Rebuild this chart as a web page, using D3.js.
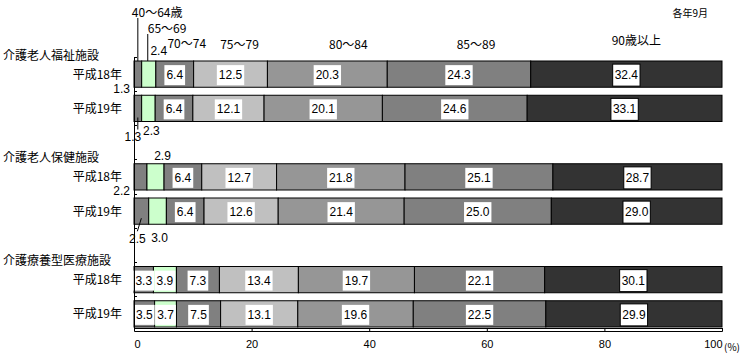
<!DOCTYPE html>
<html><head><meta charset="utf-8">
<script src="https://cdn.jsdelivr.net/npm/d3@7"></script>
<style>
body{margin:0;background:#fff;}
svg{display:block;}
text{font-family:"Noto Sans CJK JP","Noto Sans",sans-serif;fill:#000;}
text.num{font-family:"Liberation Sans","DejaVu Sans",sans-serif;}
</style>
</head><body><svg id="chart" width="740" height="356"></svg>
<script>
// ---- data ----
const facilities = ["介護老人福祉施設", "介護老人保健施設", "介護療養型医療施設"];
const years = ["平成18年", "平成19年"];
const ageGroups = ["40〜64歳", "65〜69", "70〜74", "75〜79", "80〜84", "85〜89", "90歳以上"];
const fukushiH18 = [1.3, 2.4, 6.4, 12.5, 20.3, 24.3, 32.4];
const fukushiH19 = [1.3, 2.3, 6.4, 12.1, 20.1, 24.6, 33.1];
const hokenH18 = [2.2, 2.9, 6.4, 12.7, 21.8, 25.1, 28.7];
const hokenH19 = [2.5, 3.0, 6.4, 12.6, 21.4, 25.0, 29.0];
const ryoyoH18 = [3.3, 3.9, 7.3, 13.4, 19.7, 22.1, 30.1];
const ryoyoH19 = [3.5, 3.7, 7.5, 13.1, 19.6, 22.5, 29.9];
const xTickValues = [0, 20, 40, 60, 80, 100];
const unitLabel = "(%)";
const noteLabel = "各年9月";

// ---- styles ----
const colors = ["#808080", "#ccffcc", "#808080", "#c0c0c0", "#969696", "#808080", "#333333"];

const valuesByFacility = [[fukushiH18, fukushiH19], [hokenH18, hokenH19], [ryoyoH18, ryoyoH19]];
const rows = [];
const bandKeys = [];
facilities.forEach((f, fi) => {
  if (fi > 0) bandKeys.push("gap" + fi);
  years.forEach((y, yi) => {
    const key = f + "|" + y;
    bandKeys.push(key);
    rows.push({key, facility: f, fi, year: y, yi, values: valuesByFacility[fi][yi]});
  });
});

const svg = d3.select("#chart");
const x = d3.scaleLinear().domain([0, 1]).range([134, 722]);
const y = d3.scaleBand().domain(bandKeys).range([57, 331]).padding(0);
const barPad = 4;
const barTop = k => y(k) + barPad;
const barH = y.bandwidth() - 2 * barPad;
const barMid = k => y(k) + y.bandwidth() / 2;

const stack = d3.stack()
  .keys(d3.range(ageGroups.length))
  .value((d, k) => d.values[k])
  .offset(d3.stackOffsetExpand);
const series = stack(rows);

// bars
const gBars = svg.append("g");
series.forEach((s, si) => {
  gBars.selectAll(null).data(s).join("rect")
    .attr("x", d => x(d[0]))
    .attr("y", d => barTop(d.data.key))
    .attr("width", d => x(d[1]) - x(d[0]))
    .attr("height", barH)
    .attr("fill", colors[si])
    .attr("stroke", "#000")
    .attr("stroke-width", 1);
});

// outside labels (annotation layout): row index, series index
const outside = [
  {r: 0, s: 0, mode: "leftBelow", dy: 2},
  {r: 0, s: 1, mode: "above", dx: 10, dy: -10},
  {r: 1, s: 0, mode: "below", dx: -5, dy: 15, leader: [0, -4, 0, 8]},
  {r: 1, s: 1, mode: "below", dx: 3, dy: 9},
  {r: 2, s: 0, mode: "leftBelow", dy: 1},
  {r: 2, s: 1, mode: "above", dx: 7, dy: -8},
  {r: 3, s: 0, mode: "below", dx: -4, dy: 15, leader: [0, -6, -4, 7]},
  {r: 3, s: 1, mode: "below", dx: 2, dy: 14}
];
const isOutside = (r, s) => outside.some(o => o.r === r && o.s === s);

const gLab = svg.append("g").style("font-size", "12px");
const segMid = (r, s) => x((series[s][r][0] + series[s][r][1]) / 2);

// inline labels with white boxes
rows.forEach((row, ri) => {
  ageGroups.forEach((a, si) => {
    if (isOutside(ri, si)) return;
    const cx = segMid(ri, si);
    const cy = barMid(row.key) + 1;
    const g = gLab.append("g");
    const t = g.append("text").attr("class", "num")
      .attr("x", cx).attr("y", cy)
      .attr("text-anchor", "middle").attr("dominant-baseline", "central")
      .text(row.values[si].toFixed(1));
    const w = t.node().getComputedTextLength() + 4;
    const h = si === 6 ? 22 : 20;
    g.insert("rect", "text")
      .attr("x", cx - w / 2).attr("y", cy - h / 2)
      .attr("width", w).attr("height", h)
      .attr("fill", "#fff")
      .attr("stroke", si === 6 ? "#000" : "none");
  });
});

// outside labels
outside.forEach(o => {
  const row = rows[o.r];
  const txt = row.values[o.s].toFixed(1);
  const cx = segMid(o.r, o.s);
  const top = barTop(row.key), bot = top + barH;
  let tx, ty, anchor = "middle";
  if (o.mode === "leftBelow") { tx = x(0) - 4; ty = bot + o.dy; anchor = "end"; }
  else if (o.mode === "above") { tx = cx + o.dx; ty = top + o.dy; }
  else { tx = cx + o.dx; ty = bot + o.dy; }
  gLab.append("text").attr("class", "num").attr("x", tx).attr("y", ty)
    .attr("text-anchor", anchor).attr("dominant-baseline", "central").text(txt);
  if (o.leader) {
    gLab.append("line")
      .attr("x1", cx + o.leader[0]).attr("y1", bot + o.leader[1])
      .attr("x2", cx + o.leader[2]).attr("y2", bot + o.leader[3])
      .attr("stroke", "#000").attr("stroke-width", 1);
  }
});

// series name labels above first bar
const nameDx = [-6, -1, 12, 9, 21, 17, 10];
const nameY = [11, 27, 42, 43, 43, 43, 39];
ageGroups.forEach((a, si) => {
  const cx = segMid(0, si);
  const startAligned = si < 2;
  const tx = cx + nameDx[si];
  gLab.append("text")
    .attr("x", tx).attr("y", nameY[si])
    .attr("text-anchor", startAligned ? "start" : "middle")
    .attr("dominant-baseline", "central")
    .text(a);
  if (startAligned) {
    const lx = si === 0 ? cx : tx;
    gLab.append("line")
      .attr("x1", lx).attr("x2", lx)
      .attr("y1", nameY[si] + 7).attr("y2", barTop(rows[0].key))
      .attr("stroke", "#000").attr("stroke-width", 1);
  }
});

// left axis with ticks at band boundaries
const gAxis = svg.append("g").attr("shape-rendering", "crispEdges");
gAxis.append("line").attr("x1", x(0)).attr("x2", x(0))
  .attr("y1", y.range()[0]).attr("y2", y.range()[1]).attr("stroke", "#000");
bandKeys.forEach(k => {
  gAxis.append("line").attr("x1", x(0)).attr("x2", x(0) + 3)
    .attr("y1", y(k)).attr("y2", y(k)).attr("stroke", "#000");
});

// bottom axis
const xAxis = d3.axisBottom(x)
  .tickValues(xTickValues.map(v => v / 100))
  .tickFormat(d => d3.format("d")(d * 100))
  .tickSize(-3).tickSizeOuter(-3).tickPadding(9);
const gx = svg.append("g").attr("transform", `translate(0,${y.range()[1]})`).call(xAxis);
gx.select(".domain").attr("stroke", "#000").attr("fill", "#fff");
gx.selectAll(".tick line").attr("stroke", "#000");
gx.selectAll(".tick text").style("font-size", "11px")
  .style("font-family", '"Liberation Sans", sans-serif')
  .attr("text-anchor", d => d === 0 ? "start" : d === 1 ? "end" : "middle");
gx.append("line").attr("x1", x(0)).attr("x2", x(1)).attr("y1", -3).attr("y2", -3)
  .attr("stroke", "#000").attr("shape-rendering", "crispEdges");
svg.append("text").attr("x", x(1) + 2).attr("y", y.range()[1] + 15)
  .attr("dominant-baseline", "central").style("font-size", "10px").text(unitLabel);

// facility titles and year labels
facilities.forEach((f, fi) => {
  const k = rows.find(r => r.fi === fi).key;
  svg.append("text").attr("x", 3).attr("y", y(k) - 3)
    .attr("dominant-baseline", "central").style("font-size", "12px").text(f);
});
rows.forEach(r => {
  svg.append("text").attr("x", 122).attr("y", barMid(r.key) - 1)
    .attr("text-anchor", "end").attr("dominant-baseline", "central")
    .style("font-size", "12px").text(r.year);
});

svg.append("text").attr("x", 708).attr("y", 12).attr("text-anchor", "end")
  .attr("dominant-baseline", "central").style("font-size", "10px").text(noteLabel);
</script>
</body></html>
